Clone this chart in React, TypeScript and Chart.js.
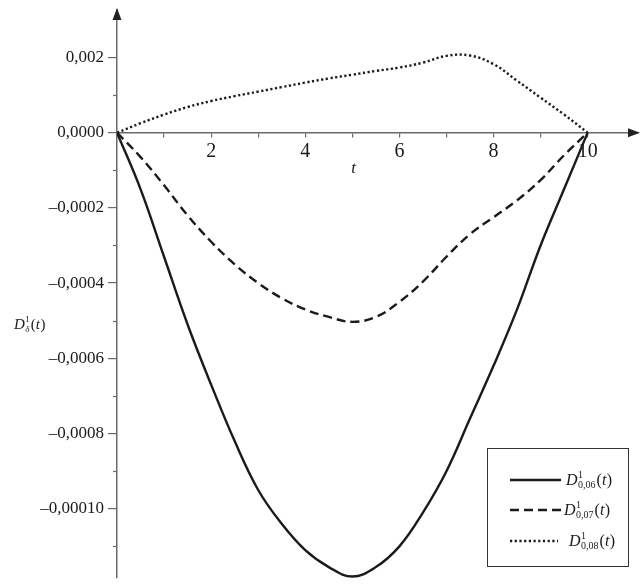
import { useEffect, useRef } from "react";
import { Chart, registerables } from "chart.js";

Chart.register(...registerables);

// ---- data ----
const tValues = [0, 0.5, 1, 1.5, 2, 2.5, 3, 3.5, 4, 4.5, 5, 5.5, 6, 6.5, 7, 7.5, 8, 8.5, 9, 9.5, 10];
const series006 = [0, -0.00015, -0.00033, -0.00051, -0.00067, -0.00082, -0.00095, -0.00104, -0.00111, -0.001155, -0.00118, -0.001155, -0.0011, -0.00101, -0.0009, -0.00076, -0.00062, -0.00047, -0.0003, -0.00015, 0];
const series007 = [0, -0.000065, -0.00014, -0.00022, -0.00029, -0.00035, -0.0004, -0.00044, -0.00047, -0.00049, -0.000503, -0.00049, -0.00045, -0.000396, -0.00033, -0.00027, -0.000225, -0.00018, -0.000126, -0.00006, 0];
const series008 = [0, 0.000025, 0.000048, 0.000068, 0.000084, 0.000097, 0.000109, 0.000121, 0.000133, 0.000144, 0.000154, 0.000164, 0.000173, 0.000186, 0.000204, 0.000205, 0.000182, 0.000138, 0.000093, 0.000048, 0];
const seriesSubscripts = ["0,06", "0,07", "0,08"];

const xTickValues = [1, 2, 3, 4, 5, 6, 7, 8, 9, 10];
const xTickLabels = ["", "2", "", "4", "", "6", "", "8", "", "10"];
const yMajorTicks = [0.0002, 0, -0.0002, -0.0004, -0.0006, -0.0008, -0.001];
const yMajorLabels = ["0,002", "0,0000", "\u20130,0002", "\u20130,0004", "\u20130,0006", "\u20130,0008", "\u20130,00010"];
const yMinorTicks = [0.0001, -0.0001, -0.0003, -0.0005, -0.0007, -0.0009, -0.0011];
const xTitle = "t";

const SERIF = '"Liberation Serif", "Times New Roman", serif';
const AXIS = "#6a6a6a";
const INK = "#1a1a1a";

function drawD(ctx: CanvasRenderingContext2D, x: number, yBase: number, size: number, sub: string, subItalic: boolean) {
  ctx.save();
  ctx.fillStyle = INK;
  ctx.textAlign = "left";
  ctx.textBaseline = "alphabetic";
  ctx.font = `italic ${size}px ${SERIF}`;
  ctx.fillText("D", x, yBase);
  x += ctx.measureText("D").width + 0.5;
  const small = Math.round(size * 0.6);
  ctx.font = `${small}px ${SERIF}`;
  const wSup = ctx.measureText("1").width;
  ctx.fillText("1", x, yBase - size * 0.42);
  ctx.font = `${subItalic ? "italic " : ""}${small}px ${SERIF}`;
  const wSub = ctx.measureText(sub).width;
  ctx.fillText(sub, x, yBase + size * 0.2);
  x += Math.max(wSup, wSub) + 1;
  ctx.font = `${size}px ${SERIF}`;
  ctx.fillText("(", x, yBase);
  x += ctx.measureText("(").width;
  ctx.font = `italic ${size}px ${SERIF}`;
  ctx.fillText("t", x, yBase);
  x += ctx.measureText("t").width + 0.5;
  ctx.font = `${size}px ${SERIF}`;
  ctx.fillText(")", x, yBase);
  ctx.restore();
}

const decorPlugin = {
  id: "decor",
  afterDraw(chart: any) {
    const ctx: CanvasRenderingContext2D = chart.ctx;
    const xs = chart.scales.x;
    const ys = chart.scales.y;
    const area = chart.chartArea;
    const x0 = xs.getPixelForValue(0);
    const y0 = ys.getPixelForValue(0);
    ctx.save();
    // minor y ticks
    ctx.strokeStyle = AXIS;
    ctx.lineWidth = 1.2;
    yMinorTicks.forEach((v) => {
      const py = Math.round(ys.getPixelForValue(v)) + 0.5;
      ctx.beginPath();
      ctx.moveTo(x0 - 4, py);
      ctx.lineTo(x0, py);
      ctx.stroke();
    });
    // arrows
    ctx.fillStyle = "#222";
    ctx.beginPath();
    ctx.moveTo(x0, area.top - 2);
    ctx.lineTo(x0 - 4.5, area.top + 10);
    ctx.lineTo(x0 + 4.5, area.top + 10);
    ctx.closePath();
    ctx.fill();
    ctx.beginPath();
    ctx.moveTo(area.right + 2, y0);
    ctx.lineTo(area.right - 10, y0 - 4.5);
    ctx.lineTo(area.right - 10, y0 + 4.5);
    ctx.closePath();
    ctx.fill();
    // x title
    ctx.fillStyle = INK;
    ctx.font = `italic 17px ${SERIF}`;
    ctx.textAlign = "center";
    ctx.textBaseline = "middle";
    ctx.fillText(xTitle, xs.getPixelForValue(5.03), y0 + 36);
    ctx.restore();
    // y title
    drawD(ctx, 14, ys.getPixelForValue(-0.000505) + 6, 15, "\u03b4", true);

    // legend
    const bx = 487.5, by = 448.5, bw = 141, bh = 118;
    ctx.save();
    ctx.strokeStyle = "#333";
    ctx.lineWidth = 1;
    ctx.strokeRect(bx, by, bw, bh);
    const rows = [480, 510, 541];
    const lineEnds = [561, 563, 558];
    const labelX = [566, 564, 569];
    chart.data.datasets.forEach((ds: any, i: number) => {
      ctx.save();
      ctx.strokeStyle = ds.borderColor;
      ctx.lineWidth = ds.borderWidth;
      ctx.setLineDash(ds.borderDash || []);
      ctx.beginPath();
      ctx.moveTo(510, rows[i]);
      ctx.lineTo(lineEnds[i], rows[i]);
      ctx.stroke();
      ctx.restore();
      drawD(ctx, labelX[i], rows[i] + 5, 16, seriesSubscripts[i], false);
    });
    ctx.restore();
  },
};

export default function App() {
  const canvasRef = useRef<HTMLCanvasElement | null>(null);

  useEffect(() => {
    const canvas = canvasRef.current;
    if (!canvas) return;
    const mk = (vals: number[]) => tValues.map((t, i) => ({ x: t, y: vals[i] }));
    const common = { borderColor: INK, borderWidth: 2.4, pointRadius: 0, tension: 0.4, fill: false };
    const chart = new Chart(canvas, {
      type: "line",
      data: {
        datasets: [
          { label: "D 0,06", data: mk(series006), borderDash: [], ...common },
          { label: "D 0,07", data: mk(series007), borderDash: [9, 5], ...common },
          { label: "D 0,08", data: mk(series008), borderDash: [2.2, 2.5], ...common },
        ] as any,
      },
      options: {
        responsive: false,
        animation: false,
        events: [],
        layout: { padding: { left: 0, top: 10, right: 4, bottom: 6 } },
        plugins: { legend: { display: false }, tooltip: { enabled: false }, title: { display: false } },
        scales: {
          x: {
            type: "linear",
            position: { y: 0 } as any,
            min: 0,
            max: 11.07,
            afterBuildTicks: (s: any) => {
              s.ticks = xTickValues.map((v) => ({ value: v }));
            },
            afterFit: (s: any) => {
              s.paddingLeft = 0;
              s.paddingRight = 0;
            },
            ticks: {
              autoSkip: false,
              maxRotation: 0,
              padding: 3,
              color: INK,
              font: { family: SERIF, size: 20 },
              callback: (_v: any, i: number) => xTickLabels[i],
            },
            grid: { drawOnChartArea: false, drawTicks: true, tickLength: 4, color: AXIS, lineWidth: 1.2 },
            border: { display: true, color: AXIS, width: 1.5 },
          },
          y: {
            type: "linear",
            position: "left",
            min: -0.001184,
            max: 0.000326,
            afterBuildTicks: (s: any) => {
              s.ticks = yMajorTicks.map((v) => ({ value: v }));
            },
            afterFit: (s: any) => {
              s.width = 117;
              s.paddingTop = 0;
              s.paddingBottom = 0;
            },
            ticks: {
              autoSkip: false,
              padding: 4,
              color: INK,
              font: { family: SERIF, size: 17 },
              callback: (_v: any, i: number) => yMajorLabels[i],
            },
            grid: { drawOnChartArea: false, drawTicks: true, tickLength: 9, color: AXIS, lineWidth: 1.2 },
            border: { display: true, color: AXIS, width: 1.5 },
          },
        },
      } as any,
      plugins: [decorPlugin],
    });
    return () => chart.destroy();
  }, []);

  return (
    <div style={{ position: "absolute", left: 0, top: 0, width: 642, height: 584, background: "#fff" }}>
      <canvas ref={canvasRef} width={642} height={584} style={{ display: "block" }} />
    </div>
  );
}
